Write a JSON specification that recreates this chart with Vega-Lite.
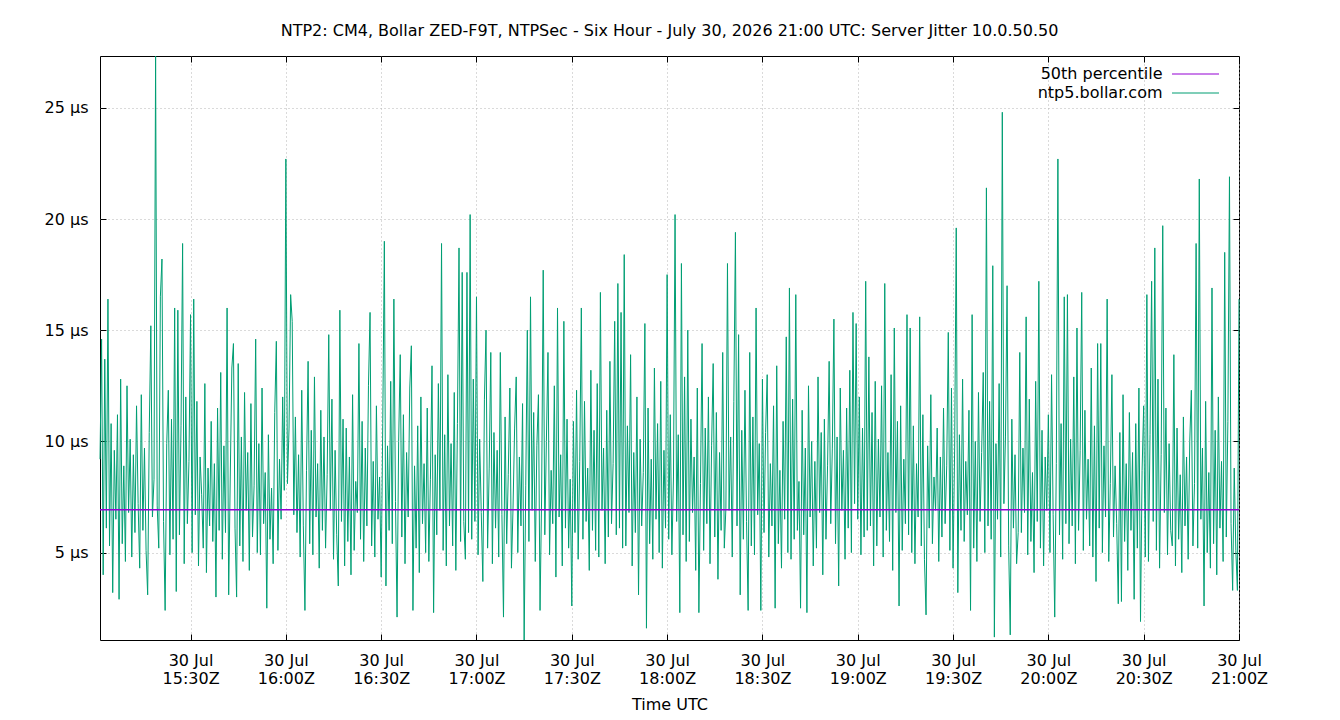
{
"$schema":"https://vega.github.io/schema/vega-lite/v6.json",
"width":1139,"height":584,
"autosize":"none",
"padding":{"left":100,"top":56,"right":101,"bottom":80},
"background":"white",
"config":{"font":"DejaVu Sans","view":{"stroke":"#000000","strokeWidth":1},
"axis":{"labelFont":"DejaVu Sans","labelFontSize":16,"labelColor":"#000000","titleFont":"DejaVu Sans","titleFontSize":16,"titleFontWeight":"normal","titleColor":"#000000","domain":false,"tickColor":"#000000","tickSize":-6,"gridColor":"#b4b4b4","gridDash":[1,3],"gridWidth":1}},
"title":{"text":"NTP2: CM4, Bollar ZED-F9T, NTPSec - Six Hour - July 30, 2026 21:00 UTC: Server Jitter 10.0.50.50","fontSize":16,"fontWeight":"normal","font":"DejaVu Sans","color":"#000000","anchor":"middle","offset":15},
"datasets":{"jitter":[
{"m":1.5,"v":9.2},{"m":2,"v":14.6},{"m":2.5,"v":4},{"m":3,"v":13.7},{"m":3.5,"v":6.1},{"m":4,"v":16.4},{"m":4.5,"v":5.3},{"m":5,"v":10.8},{"m":5.5,"v":3.2},{"m":6,"v":9.6},
{"m":6.5,"v":6.5},{"m":7,"v":11.2},{"m":7.5,"v":2.9},{"m":8,"v":12.8},{"m":8.5,"v":5.4},{"m":9,"v":8.9},{"m":9.5,"v":4.6},{"m":10,"v":12.5},{"m":10.5,"v":6.8},{"m":11,"v":10.1},
{"m":11.5,"v":4.8},{"m":12,"v":9.4},{"m":12.5,"v":5.9},{"m":13,"v":11.6},{"m":13.5,"v":7.2},{"m":14,"v":4.3},{"m":14.5,"v":12.1},{"m":15,"v":6},{"m":15.5,"v":9.7},{"m":16,"v":5.1},
{"m":16.5,"v":3.1},{"m":17,"v":10.4},{"m":17.5,"v":15.2},{"m":18,"v":6.6},{"m":18.5,"v":8.3},{"m":19,"v":27.33},{"m":19.5,"v":7.1},{"m":20,"v":5.2},{"m":20.5,"v":16.5},{"m":21,"v":18.2},
{"m":21.5,"v":6.4},{"m":22,"v":2.4},{"m":22.5,"v":9.9},{"m":23,"v":12.3},{"m":23.5,"v":4.9},{"m":24,"v":11},{"m":24.5,"v":5.6},{"m":25,"v":16},{"m":25.5,"v":3.25},{"m":26,"v":15.9},
{"m":26.5,"v":5.8},{"m":27,"v":10.7},{"m":27.5,"v":18.9},{"m":28,"v":4.5},{"m":28.5,"v":12},{"m":29,"v":6.3},{"m":29.5,"v":9.1},{"m":30,"v":15.7},{"m":30.5,"v":5},{"m":31,"v":16.4},
{"m":31.5,"v":6.7},{"m":32,"v":11.8},{"m":32.5,"v":4.4},{"m":33,"v":9.3},{"m":33.5,"v":7.6},{"m":34,"v":5.2},{"m":34.5,"v":12.6},{"m":35,"v":4.1},{"m":35.5,"v":8.8},{"m":36,"v":6.2},
{"m":36.5,"v":10.9},{"m":37,"v":5.5},{"m":37.5,"v":9},{"m":38,"v":3},{"m":38.5,"v":11.5},{"m":39,"v":6},{"m":39.5,"v":13.1},{"m":40,"v":4.7},{"m":40.5,"v":9.8},{"m":41,"v":5.9},
{"m":41.5,"v":16},{"m":42,"v":3.1},{"m":42.5,"v":8.4},{"m":43,"v":13.3},{"m":43.5,"v":14.4},{"m":44,"v":6.1},{"m":44.5,"v":3},{"m":45,"v":13.5},{"m":45.5,"v":5.3},{"m":46,"v":10.2},
{"m":46.5,"v":4.6},{"m":47,"v":12.2},{"m":47.5,"v":6.9},{"m":48,"v":9.5},{"m":48.5,"v":4.2},{"m":49,"v":11.7},{"m":49.5,"v":5.7},{"m":50,"v":8},{"m":50.5,"v":14.6},{"m":51,"v":5},
{"m":51.5,"v":9.9},{"m":52,"v":4.9},{"m":52.5,"v":12.4},{"m":53,"v":6.3},{"m":53.5,"v":8.6},{"m":54,"v":2.5},{"m":54.5,"v":10.3},{"m":55,"v":5.6},{"m":55.5,"v":7.9},{"m":56,"v":4.5},
{"m":56.5,"v":11.3},{"m":57,"v":14.5},{"m":57.5,"v":5.1},{"m":58,"v":9.2},{"m":58.5,"v":6.5},{"m":59,"v":12},{"m":59.5,"v":7.8},{"m":60,"v":22.7},{"m":60.5,"v":8.1},{"m":61,"v":10.6},
{"m":61.5,"v":16.6},{"m":62,"v":15.4},{"m":62.5,"v":6.7},{"m":63,"v":11.1},{"m":63.5,"v":5.9},{"m":64,"v":9.4},{"m":64.5,"v":4.8},{"m":65,"v":12.3},{"m":65.5,"v":6.2},{"m":66,"v":2.4},
{"m":66.5,"v":8.7},{"m":67,"v":13.6},{"m":67.5,"v":5.4},{"m":68,"v":10.5},{"m":68.5,"v":4.9},{"m":69,"v":12.9},{"m":69.5,"v":6.6},{"m":70,"v":9},{"m":70.5,"v":4.3},{"m":71,"v":11.4},
{"m":71.5,"v":6},{"m":72,"v":10.2},{"m":72.5,"v":5.2},{"m":73,"v":8.5},{"m":73.5,"v":14.8},{"m":74,"v":6.9},{"m":74.5,"v":11.9},{"m":75,"v":4.7},{"m":75.5,"v":9.6},{"m":76,"v":5.8},
{"m":76.5,"v":3.5},{"m":77,"v":15.9},{"m":77.5,"v":6.4},{"m":78,"v":11},{"m":78.5,"v":4.4},{"m":79,"v":10.6},{"m":79.5,"v":5.5},{"m":80,"v":9.3},{"m":80.5,"v":4},{"m":81,"v":12.1},
{"m":81.5,"v":5.1},{"m":82,"v":8.2},{"m":82.5,"v":6.8},{"m":83,"v":14.4},{"m":83.5,"v":5.6},{"m":84,"v":10.9},{"m":84.5,"v":4.6},{"m":85,"v":9.7},{"m":85.5,"v":6.2},{"m":86,"v":12.5},
{"m":86.5,"v":15.8},{"m":87,"v":5.3},{"m":87.5,"v":9.1},{"m":88,"v":4.8},{"m":88.5,"v":11.6},{"m":89,"v":6.5},{"m":89.5,"v":8.4},{"m":90,"v":3.9},{"m":90.5,"v":10.8},{"m":91,"v":19},
{"m":91.5,"v":3.5},{"m":92,"v":9.8},{"m":92.5,"v":6},{"m":93,"v":12.7},{"m":93.5,"v":5.4},{"m":94,"v":16.4},{"m":94.5,"v":7.3},{"m":95,"v":2.1},{"m":95.5,"v":10},{"m":96,"v":13.9},
{"m":96.5,"v":5.7},{"m":97,"v":11.2},{"m":97.5,"v":4.5},{"m":98,"v":9.5},{"m":98.5,"v":6.6},{"m":99,"v":12.4},{"m":99.5,"v":14.3},{"m":100,"v":2.4},{"m":100.5,"v":8.9},{"m":101,"v":5.2},
{"m":101.5,"v":10.7},{"m":102,"v":4.1},{"m":102.5,"v":12},{"m":103,"v":6.3},{"m":103.5,"v":9},{"m":104,"v":5},{"m":104.5,"v":11.5},{"m":105,"v":4.6},{"m":105.5,"v":8.3},{"m":106,"v":13.4},
{"m":106.5,"v":2.3},{"m":107,"v":9.4},{"m":107.5,"v":5.8},{"m":108,"v":12.6},{"m":108.5,"v":6.9},{"m":109,"v":18.9},{"m":109.5,"v":5.1},{"m":110,"v":10.3},{"m":110.5,"v":4.4},{"m":111,"v":13},
{"m":111.5,"v":6.2},{"m":112,"v":9.9},{"m":112.5,"v":5.3},{"m":113,"v":12.2},{"m":113.5,"v":4.2},{"m":114,"v":10.8},{"m":114.5,"v":18.7},{"m":115,"v":5.5},{"m":115.5,"v":17.6},{"m":116,"v":6.4},
{"m":116.5,"v":4.7},{"m":117,"v":17.6},{"m":117.5,"v":5.9},{"m":118,"v":20.2},{"m":118.5,"v":5.6},{"m":119,"v":12.8},{"m":119.5,"v":6.4},{"m":120,"v":16.5},{"m":120.5,"v":4.9},{"m":121,"v":10.1},
{"m":121.5,"v":6.8},{"m":122,"v":3.7},{"m":122.5,"v":11.9},{"m":123,"v":15},{"m":123.5,"v":5.2},{"m":124,"v":8.8},{"m":124.5,"v":14},{"m":125,"v":4.5},{"m":125.5,"v":10.4},{"m":126,"v":6.1},
{"m":126.5,"v":9.6},{"m":127,"v":4.8},{"m":127.5,"v":14},{"m":128,"v":6.7},{"m":128.5,"v":2.1},{"m":129,"v":11.1},{"m":129.5,"v":5.4},{"m":130,"v":8.5},{"m":130.5,"v":12.4},{"m":131,"v":4.3},
{"m":131.5,"v":7},{"m":132,"v":10.6},{"m":132.5,"v":12.9},{"m":133,"v":5},{"m":133.5,"v":9.3},{"m":134,"v":6.2},{"m":134.5,"v":11.7},{"m":135,"v":1.07},{"m":135.5,"v":8},{"m":136,"v":15},
{"m":136.5,"v":5.5},{"m":137,"v":16.5},{"m":137.5,"v":6.9},{"m":138,"v":11.3},{"m":138.5,"v":4.6},{"m":139,"v":9.8},{"m":139.5,"v":12.1},{"m":140,"v":2.4},{"m":140.5,"v":7.5},{"m":141,"v":17.7},
{"m":141.5,"v":5.8},{"m":142,"v":10},{"m":142.5,"v":14},{"m":143,"v":4.9},{"m":143.5,"v":8.7},{"m":144,"v":6.3},{"m":144.5,"v":12.5},{"m":145,"v":3.9},{"m":145.5,"v":16},{"m":146,"v":6.6},
{"m":146.5,"v":9.4},{"m":147,"v":4.4},{"m":147.5,"v":15.4},{"m":148,"v":6.1},{"m":148.5,"v":11},{"m":149,"v":5.2},{"m":149.5,"v":8.3},{"m":150,"v":2.6},{"m":150.5,"v":10.9},{"m":151,"v":5.9},
{"m":151.5,"v":12.3},{"m":152,"v":4.7},{"m":152.5,"v":9.1},{"m":153,"v":16},{"m":153.5,"v":5.6},{"m":154,"v":11.8},{"m":154.5,"v":6.4},{"m":155,"v":8.8},{"m":155.5,"v":4.2},{"m":156,"v":13.2},
{"m":156.5,"v":6},{"m":157,"v":10.5},{"m":157.5,"v":5.1},{"m":158,"v":12.6},{"m":158.5,"v":4.8},{"m":159,"v":16.7},{"m":159.5,"v":6.9},{"m":160,"v":9.7},{"m":160.5,"v":4.5},{"m":161,"v":11.4},
{"m":161.5,"v":5.7},{"m":162,"v":13.6},{"m":162.5,"v":6.3},{"m":163,"v":9},{"m":163.5,"v":15.4},{"m":164,"v":5.8},{"m":164.5,"v":17.1},{"m":165,"v":6.1},{"m":165.5,"v":15.8},{"m":166,"v":5.2},
{"m":166.5,"v":18.4},{"m":167,"v":5.3},{"m":167.5,"v":10.7},{"m":168,"v":6.8},{"m":168.5,"v":13.9},{"m":169,"v":4.4},{"m":169.5,"v":9.5},{"m":170,"v":5.9},{"m":170.5,"v":12},{"m":171,"v":3.1},
{"m":171.5,"v":10.1},{"m":172,"v":6.2},{"m":172.5,"v":8.6},{"m":173,"v":15.3},{"m":173.5,"v":1.6},{"m":174,"v":11.5},{"m":174.5,"v":5.4},{"m":175,"v":9.2},{"m":175.5,"v":4.7},{"m":176,"v":13.3},
{"m":176.5,"v":6.5},{"m":177,"v":10.8},{"m":177.5,"v":5},{"m":178,"v":12.7},{"m":178.5,"v":4.3},{"m":179,"v":9.6},{"m":179.5,"v":6.1},{"m":180,"v":17.5},{"m":180.5,"v":5.6},{"m":181,"v":11.2},
{"m":181.5,"v":4.9},{"m":182,"v":8.4},{"m":182.5,"v":20.2},{"m":183,"v":6.4},{"m":183.5,"v":10.3},{"m":184,"v":2.3},{"m":184.5,"v":18},{"m":185,"v":5.8},{"m":185.5,"v":12.9},{"m":186,"v":4.6},
{"m":186.5,"v":15},{"m":187,"v":5.5},{"m":187.5,"v":11},{"m":188,"v":6.8},{"m":188.5,"v":9.3},{"m":189,"v":4.2},{"m":189.5,"v":12.4},{"m":190,"v":2.3},{"m":190.5,"v":8.1},{"m":191,"v":14.4},
{"m":191.5,"v":5.1},{"m":192,"v":10.6},{"m":192.5,"v":6.3},{"m":193,"v":12},{"m":193.5,"v":4.5},{"m":194,"v":9.8},{"m":194.5,"v":13.5},{"m":195,"v":5.7},{"m":195.5,"v":11.3},{"m":196,"v":3.8},
{"m":196.5,"v":9.5},{"m":197,"v":6},{"m":197.5,"v":14},{"m":198,"v":5.2},{"m":198.5,"v":7},{"m":199,"v":18},{"m":199.5,"v":6.9},{"m":200,"v":10.2},{"m":200.5,"v":4.8},{"m":201,"v":11.8},
{"m":201.5,"v":19.4},{"m":202,"v":6.2},{"m":202.5,"v":14.8},{"m":203,"v":3.1},{"m":203.5,"v":10.5},{"m":204,"v":5.6},{"m":204.5,"v":12.3},{"m":205,"v":6.4},{"m":205.5,"v":2.4},{"m":206,"v":14},
{"m":206.5,"v":5.3},{"m":207,"v":11.1},{"m":207.5,"v":4.9},{"m":208,"v":16},{"m":208.5,"v":6.7},{"m":209,"v":9.9},{"m":209.5,"v":2.4},{"m":210,"v":12.8},{"m":210.5,"v":5.9},{"m":211,"v":10.4},
{"m":211.5,"v":13},{"m":212,"v":4.8},{"m":212.5,"v":9},{"m":213,"v":6.2},{"m":213.5,"v":11.6},{"m":214,"v":2.5},{"m":214.5,"v":13.4},{"m":215,"v":5.4},{"m":215.5,"v":8.7},{"m":216,"v":4.3},
{"m":216.5,"v":10.9},{"m":217,"v":6.5},{"m":217.5,"v":14.7},{"m":218,"v":5},{"m":218.5,"v":16.9},{"m":219,"v":4.7},{"m":219.5,"v":11.9},{"m":220,"v":5.6},{"m":220.5,"v":16.6},{"m":221,"v":6},
{"m":221.5,"v":8.2},{"m":222,"v":2.5},{"m":222.5,"v":11.4},{"m":223,"v":5.8},{"m":223.5,"v":9.7},{"m":224,"v":2.3},{"m":224.5,"v":12.5},{"m":225,"v":6.6},{"m":225.5,"v":10},{"m":226,"v":4.4},
{"m":226.5,"v":9.1},{"m":227,"v":5.2},{"m":227.5,"v":12.9},{"m":228,"v":6.8},{"m":228.5,"v":10.4},{"m":229,"v":4},{"m":229.5,"v":11},{"m":230,"v":5.6},{"m":230.5,"v":8.9},{"m":231,"v":13.6},
{"m":231.5,"v":6.3},{"m":232,"v":9.7},{"m":232.5,"v":15.5},{"m":233,"v":5.4},{"m":233.5,"v":10.2},{"m":234,"v":3.5},{"m":234.5,"v":12.4},{"m":235,"v":6.9},{"m":235.5,"v":9.6},{"m":236,"v":4.7},
{"m":236.5,"v":11.5},{"m":237,"v":6.1},{"m":237.5,"v":13.2},{"m":238,"v":5},{"m":238.5,"v":15.8},{"m":239,"v":7.2},{"m":239.5,"v":15.3},{"m":240,"v":6.5},{"m":240.5,"v":12},{"m":241,"v":4.9},
{"m":241.5,"v":10.6},{"m":242,"v":5.7},{"m":242.5,"v":17.2},{"m":243,"v":6},{"m":243.5,"v":13.8},{"m":244,"v":6.2},{"m":244.5,"v":11.3},{"m":245,"v":4.4},{"m":245.5,"v":12.7},{"m":246,"v":5.3},
{"m":246.5,"v":10.1},{"m":247,"v":6.6},{"m":247.5,"v":12.5},{"m":248,"v":4.8},{"m":248.5,"v":17.1},{"m":249,"v":6},{"m":249.5,"v":9.5},{"m":250,"v":5.5},{"m":250.5,"v":13},{"m":251,"v":4.2},
{"m":251.5,"v":15.1},{"m":252,"v":6.8},{"m":252.5,"v":10.9},{"m":253,"v":2.6},{"m":253.5,"v":11.6},{"m":254,"v":5.1},{"m":254.5,"v":9.2},{"m":255,"v":6.3},{"m":255.5,"v":15.7},{"m":256,"v":5.8},
{"m":256.5,"v":15.1},{"m":257,"v":5},{"m":257.5,"v":10.7},{"m":258,"v":4.5},{"m":258.5,"v":9},{"m":259,"v":6.6},{"m":259.5,"v":15.6},{"m":260,"v":5.3},{"m":260.5,"v":11.2},{"m":261,"v":4.7},
{"m":261.5,"v":2.2},{"m":262,"v":9.8},{"m":262.5,"v":6.1},{"m":263,"v":12.1},{"m":263.5,"v":5.4},{"m":264,"v":8.4},{"m":264.5,"v":6.9},{"m":265,"v":10.6},{"m":265.5,"v":4.6},{"m":266,"v":9.3},
{"m":266.5,"v":5.7},{"m":267,"v":11.5},{"m":267.5,"v":6.3},{"m":268,"v":8.9},{"m":268.5,"v":14.9},{"m":269,"v":5.1},{"m":269.5,"v":12.4},{"m":270,"v":4.3},{"m":270.5,"v":9.7},{"m":271,"v":19.6},
{"m":271.5,"v":3.2},{"m":272,"v":10.3},{"m":272.5,"v":6},{"m":273,"v":12.8},{"m":273.5,"v":5.5},{"m":274,"v":9.1},{"m":274.5,"v":6.7},{"m":275,"v":11.4},{"m":275.5,"v":2.4},{"m":276,"v":15.7},
{"m":276.5,"v":5.2},{"m":277,"v":10},{"m":277.5,"v":4.6},{"m":278,"v":12.2},{"m":278.5,"v":6.4},{"m":279,"v":9.5},{"m":279.5,"v":13.1},{"m":280,"v":5},{"m":280.5,"v":21.4},{"m":281,"v":6.2},
{"m":281.5,"v":11.8},{"m":282,"v":5.6},{"m":282.5,"v":17.9},{"m":283,"v":1.2},{"m":283.5,"v":9.9},{"m":284,"v":6.5},{"m":284.5,"v":12.6},{"m":285,"v":4.8},{"m":285.5,"v":24.8},{"m":286,"v":7.2},
{"m":286.5,"v":10.2},{"m":287,"v":17},{"m":287.5,"v":5.3},{"m":288,"v":1.3},{"m":288.5,"v":11},{"m":289,"v":6.1},{"m":289.5,"v":9.4},{"m":290,"v":4.5},{"m":290.5,"v":5.9},{"m":291,"v":14},
{"m":291.5,"v":5.9},{"m":292,"v":9.7},{"m":292.5,"v":6.8},{"m":293,"v":15.6},{"m":293.5,"v":4.9},{"m":294,"v":11.9},{"m":294.5,"v":5.5},{"m":295,"v":8.6},{"m":295.5,"v":4.1},{"m":296,"v":12.7},
{"m":296.5,"v":6.4},{"m":297,"v":17.2},{"m":297.5,"v":5.2},{"m":298,"v":10.5},{"m":298.5,"v":4.4},{"m":299,"v":9.3},{"m":299.5,"v":6.9},{"m":300,"v":11.2},{"m":300.5,"v":5},{"m":301,"v":13},
{"m":301.5,"v":6.7},{"m":302,"v":2.1},{"m":302.5,"v":9},{"m":303,"v":22.7},{"m":303.5,"v":5.8},{"m":304,"v":10.8},{"m":304.5,"v":4.7},{"m":305,"v":16.5},{"m":305.5,"v":6.3},{"m":306,"v":16.6},
{"m":306.5,"v":5.4},{"m":307,"v":10.1},{"m":307.5,"v":6.2},{"m":308,"v":12.9},{"m":308.5,"v":4.5},{"m":309,"v":15.1},{"m":309.5,"v":6},{"m":310,"v":9.6},{"m":310.5,"v":16.7},{"m":311,"v":5.1},
{"m":311.5,"v":11.4},{"m":312,"v":6.5},{"m":312.5,"v":9.2},{"m":313,"v":5.3},{"m":313.5,"v":13.3},{"m":314,"v":4.8},{"m":314.5,"v":10.7},{"m":315,"v":3.7},{"m":315.5,"v":14.4},{"m":316,"v":6.1},
{"m":316.5,"v":14.4},{"m":317,"v":5},{"m":317.5,"v":9.8},{"m":318,"v":6.6},{"m":318.5,"v":16.4},{"m":319,"v":4.6},{"m":319.5,"v":8.1},{"m":320,"v":13},{"m":320.5,"v":5.7},{"m":321,"v":8.9},
{"m":321.5,"v":6.3},{"m":322,"v":2.7},{"m":322.5,"v":10.4},{"m":323,"v":2.8},{"m":323.5,"v":12.1},{"m":324,"v":5.5},{"m":324.5,"v":9},{"m":325,"v":4.2},{"m":325.5,"v":11.3},{"m":326,"v":6},
{"m":326.5,"v":9.5},{"m":327,"v":2.9},{"m":327.5,"v":10.8},{"m":328,"v":5.2},{"m":328.5,"v":12.4},{"m":329,"v":1.9},{"m":329.5,"v":8.7},{"m":330,"v":11.6},{"m":330.5,"v":4.8},{"m":331,"v":16.6},
{"m":331.5,"v":4.6},{"m":332,"v":10.3},{"m":332.5,"v":17.2},{"m":333,"v":6.4},{"m":333.5,"v":18.7},{"m":334,"v":5.1},{"m":334.5,"v":12.8},{"m":335,"v":4.3},{"m":335.5,"v":9.4},{"m":336,"v":19.7},
{"m":336.5,"v":6.8},{"m":337,"v":11.5},{"m":337.5,"v":4.9},{"m":338,"v":9.9},{"m":338.5,"v":6},{"m":339,"v":5.3},{"m":339.5,"v":13.9},{"m":340,"v":4.4},{"m":340.5,"v":10.6},{"m":341,"v":5.6},
{"m":341.5,"v":8.5},{"m":342,"v":4.1},{"m":342.5,"v":11.1},{"m":343,"v":6.2},{"m":343.5,"v":9.3},{"m":344,"v":4.7},{"m":344.5,"v":10},{"m":345,"v":12.3},{"m":345.5,"v":5.3},{"m":346,"v":8.1},
{"m":346.5,"v":18.9},{"m":347,"v":5.2},{"m":347.5,"v":21.8},{"m":348,"v":6.5},{"m":348.5,"v":9.7},{"m":349,"v":2.6},{"m":349.5,"v":11.8},{"m":350,"v":5},{"m":350.5,"v":8.6},{"m":351,"v":4.3},
{"m":351.5,"v":16.9},{"m":352,"v":5.4},{"m":352.5,"v":10.5},{"m":353,"v":4},{"m":353.5,"v":12},{"m":354,"v":6.1},{"m":354.5,"v":9.1},{"m":355,"v":4.6},{"m":355.5,"v":18.5},{"m":356,"v":5.7},
{"m":356.5,"v":10.9},{"m":357,"v":21.9},{"m":357.5,"v":6.3},{"m":358,"v":3.3},{"m":358.5,"v":8.8},{"m":359,"v":5.1},{"m":359.5,"v":3.3},{"m":360,"v":16.4}
]},
"layer":[
{"data":{"name":"jitter"},
 "mark":{"type":"line","strokeWidth":1,"interpolate":"linear"},
 "encoding":{
  "x":{"field":"m","type":"quantitative","scale":{"domain":[1.5,360],"nice":false,"zero":false},
   "axis":{"orient":"bottom","values":[30,60,90,120,150,180,210,240,270,300,330,360],"labelExpr":"['30 Jul', (15 + floor(datum.value/60)) + ':' + (datum.value % 60 == 0 ? '00' : '30') + 'Z']","labelBaseline":"top","labelLineHeight":18,"labelPadding":18,"labelFlush":false,"labelOverlap":false,"grid":true,"title":"Time UTC","titlePadding":10}},
  "y":{"field":"v","type":"quantitative","scale":{"domain":[1.07,27.33],"nice":false,"zero":false},
   "axis":{"orient":"left","values":[5,10,15,20,25],"labelExpr":"datum.value + ' µs'","labelPadding":18,"grid":true,"title":null}},
  "color":{"datum":"ntp5.bollar.com","type":"nominal",
   "scale":{"domain":["50th percentile","ntp5.bollar.com"],"range":["#9400d3","#009e73"]},
   "legend":{"orient":"none","legendX":1087.5,"legendY":10,"title":null,"symbolType":"M-4.7,0H4.7","symbolSize":100,"symbolStrokeWidth":1.2,"labelAlign":"right","labelOffset":-41,"labelFontSize":16,"labelFont":"DejaVu Sans","labelColor":"#000000","rowPadding":3,"padding":0}}}},
{"data":{"values":[{"p":6.93}]},
 "mark":{"type":"rule","strokeWidth":1.5,"color":"#9400d3","stroke":"#9400d3","strokeOpacity":1},
 "encoding":{
  "y":{"field":"p","type":"quantitative","axis":{"orient":"right","values":[5,10,15,20,25],"labels":false,"grid":false,"title":null}}}},
{"data":{"name":"jitter"},
 "mark":{"type":"line","strokeOpacity":0},
 "encoding":{
  "x":{"field":"m","type":"quantitative","axis":{"orient":"top","values":[30,60,90,120,150,180,210,240,270,300,330,360],"labels":false,"grid":false,"title":null}},
  "y":{"field":"v","type":"quantitative","axis":null}}}
],
"resolve":{"axis":{"x":"independent","y":"independent"}}
}
